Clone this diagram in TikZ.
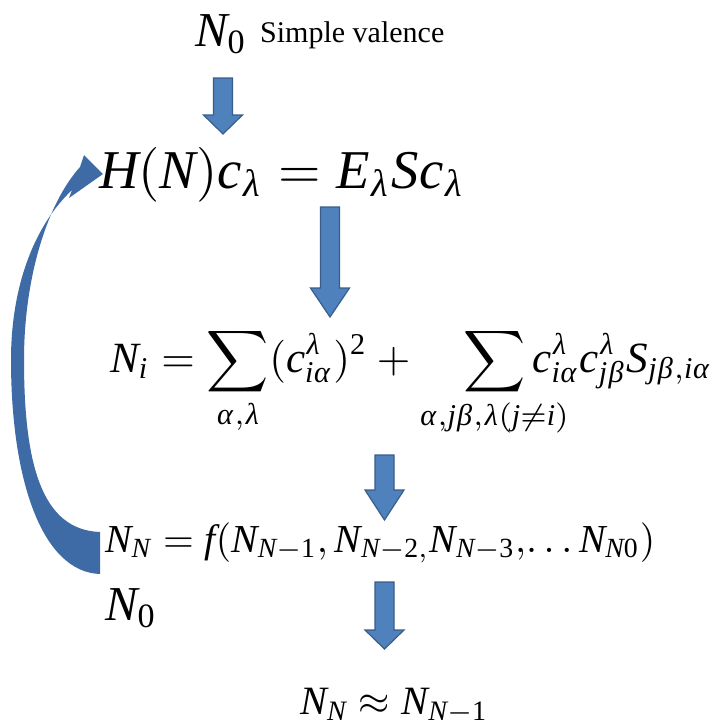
\documentclass[tikz,border=0pt]{standalone}
\usepackage{graphicx}
\usepackage{amsmath}
\usepackage{mathtools}
\usepackage{mathspec}
\setmainfont{Liberation Serif}
\setmathsfont(Digits,Latin,Greek){Liberation Serif}
\usetikzlibrary{positioning}
\definecolor{arrowblue}{RGB}{79,129,189}
\definecolor{arrowedge}{RGB}{56,93,138}
\definecolor{loopblue}{RGB}{62,106,166}
\tikzset{blockarr/.style={fill=arrowblue, draw=arrowedge, line width=1.2pt, line join=miter},
	eqn/.style={anchor=base west, inner sep=0pt}}
% block arrow pointing down: x, top, head start, tip
\newcommand{\downblk}[4]{%
	\draw[blockarr] (#1-9.5,#2) -- (#1+9.5,#2) -- (#1+9.5,#3) -- (#1+19.5,#3) -- (#1,#4)
	-- (#1-19.5,#3) -- (#1-9.5,#3) -- cycle;}

\begin{document}
\begin{tikzpicture}[x=1pt,y=-1pt]
	\useasboundingbox (0,0) rectangle (718,726);
	% start
	\node[eqn] (nstart) at (195,46) {\resizebox{52pt}{!}{$N_0$}};
	\node[eqn] (valence) at (260,42) {\fontsize{30}{34}\selectfont Simple valence};
	% equations
	\node[eqn] (secular) at (99,188) {\resizebox{366pt}{!}{$H(N)c_\lambda = E_\lambda S c_\lambda$}};
	\node[eqn] (popul) at (110,372) {\resizebox{602pt}{!}{$\displaystyle N_i = \sum_{\alpha,\lambda} (c_{i\alpha}^{\lambda})^2 + \quad \sum_{\mathclap{\alpha,j\beta,\lambda(j\neq i)}} c_{i\alpha}^{\lambda} c_{j\beta}^{\lambda} S_{j\beta,i\alpha}$}};
	\node[eqn] (iterate) at (105,552) {\resizebox{550pt}{!}{$N_N = f(N_{N-1},N_{N-2,}N_{N-3},\!\ldots N_{N0})$}};
	\node[eqn] (nback) at (105,620) {\resizebox{52pt}{!}{$N_0$}};
	\node[eqn] (converge) at (300,714) {\resizebox{188pt}{!}{$N_N \approx N_{N-1}$}};
	% arrows
	\downblk{223}{78}{115}{134}
	\downblk{330}{207}{288}{317}
	\downblk{384.5}{455}{490}{520}
	\downblk{384.5}{582}{630}{649}
	% feedback loop
	\fill[loopblue] (100,532) -- (100,574) .. controls (42,572) and (11,480) .. (11,360)
		.. controls (11,285) and (35,225) .. (72,190) -- (69,198) -- (103,174) -- (84,155)
		-- (80,167) .. controls (46,205) and (24,280) .. (24,360)
		.. controls (24,465) and (42,530) .. (100,532) -- cycle;
\end{tikzpicture}
\end{document}
